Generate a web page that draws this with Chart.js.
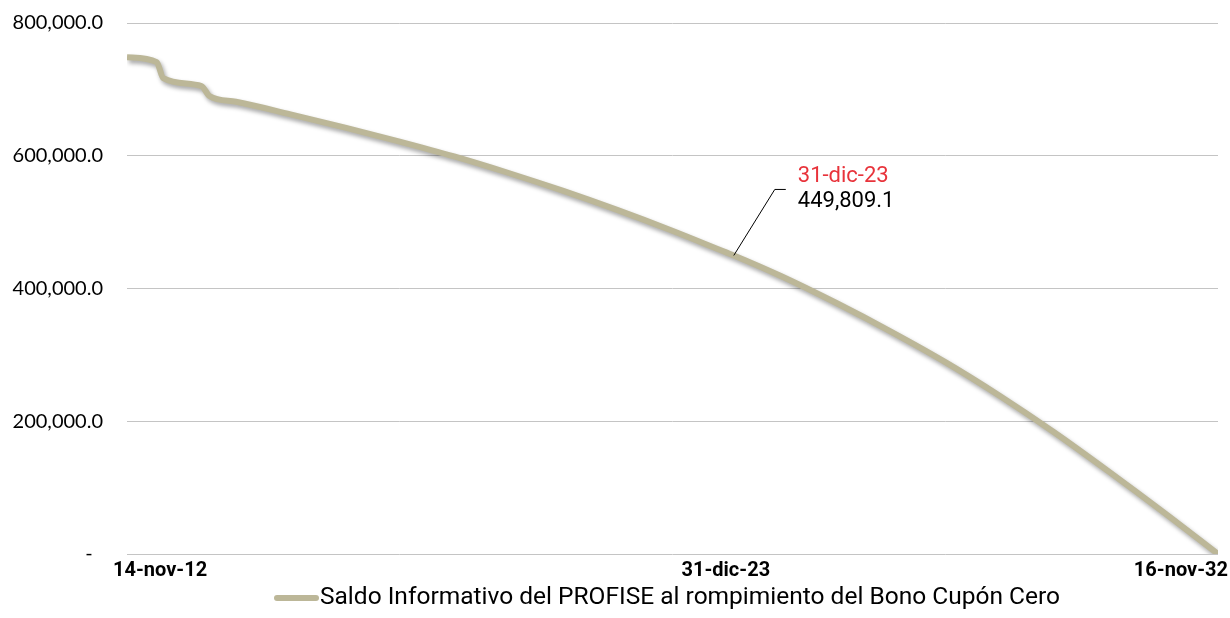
<!DOCTYPE html>
<html>
<head>
<meta charset="utf-8">
<script src="https://cdn.jsdelivr.net/npm/chart.js@4.4.1/dist/chart.umd.min.js"></script>
<style>
  html, body { margin: 0; padding: 0; background: #ffffff; }
  #wrap { width: 1230px; height: 618px; position: relative; }
</style>
</head>
<body>
<div id="wrap"><canvas id="c" width="1230" height="618"></canvas></div>
<script>
// ---- data ----
const seriesName = 'Saldo Informativo del PROFISE al rompimiento del Bono Cupón Cero';
const dates = [
  '2012-11-14','2013-06-01','2013-07-15','2014-03-28','2014-05-20','2014-11-14',
  '2015-11-14','2016-11-14','2017-11-14','2018-11-14','2019-11-14','2020-11-14',
  '2021-11-14','2022-11-14','2023-11-14','2023-12-31','2024-11-14','2025-11-14',
  '2026-11-14','2027-11-14','2028-11-14','2029-11-14','2030-11-14','2031-11-14',
  '2032-11-16'
];
const values = [
  748500, 741000, 717000, 705000, 690000, 681400,
  662400, 642400, 621400, 599000, 574000, 547000,
  518000, 487000, 454000, 449809.1, 418500, 378500,
  335500, 289500, 238500, 183500, 124500, 63500,
  0
];
const yTicks = [0, 200000, 400000, 600000, 800000];
const xTickDates = ['2012-11-14', '2023-12-31', '2032-11-16'];
const xTickLabels = ['14-nov-12', '31-dic-23', '16-nov-32'];
const annotationDate = '2023-12-31';
const annotationValue = 449809.1;
const annotationLabel = '31-dic-23';
const annotationValueLabel = '449,809.1';

// ---- helpers ----
function dayNum(s) { const p = s.split('-').map(Number); return Date.UTC(p[0], p[1] - 1, p[2]) / 86400000; }
function fmt(v) { return v === 0 ? '-  ' : v.toLocaleString('en-US', { minimumFractionDigits: 1, maximumFractionDigits: 1 }); }

const points = dates.map((d, i) => ({ x: dayNum(d), y: values[i] }));
const lineColor = 'rgb(188,183,152)';

const shadowPlugin = {
  id: 'shadow',
  beforeDatasetsDraw(chart) {
    const ctx = chart.ctx;
    ctx.save();
    ctx.shadowColor = 'rgba(0,0,0,0.35)';
    ctx.shadowBlur = 4;
    ctx.shadowOffsetX = 2;
    ctx.shadowOffsetY = 3;
  },
  afterDatasetsDraw(chart) { chart.ctx.restore(); }
};

const extrasPlugin = {
  id: 'extras',
  afterDraw(chart) {
    const ctx = chart.ctx;
    const xs = chart.scales.x, ys = chart.scales.y;
    const area = chart.chartArea;
    // x axis labels
    ctx.save();
    ctx.font = 'bold 20px Roboto';
    ctx.fillStyle = '#000000';
    ctx.textBaseline = 'middle';
    const ly = area.bottom + 17;
    xTickDates.forEach((d, i) => {
      const px = xs.getPixelForValue(dayNum(d));
      if (i === 0) { ctx.textAlign = 'left'; ctx.fillText(xTickLabels[i], px - 14, ly); }
      else if (i === xTickDates.length - 1) { ctx.textAlign = 'right'; ctx.fillText(xTickLabels[i], px + 10, ly); }
      else { ctx.textAlign = 'center'; ctx.fillText(xTickLabels[i], px - 8, ly); }
    });
    // annotation
    const ax = xs.getPixelForValue(dayNum(annotationDate));
    const ay = ys.getPixelForValue(annotationValue);
    ctx.strokeStyle = '#000000';
    ctx.lineWidth = 1;
    ctx.beginPath();
    ctx.moveTo(ax, ay);
    ctx.lineTo(ax + 41, ay - 66);
    ctx.lineTo(ax + 52, ay - 66);
    ctx.stroke();
    ctx.font = '22px Roboto';
    ctx.textAlign = 'left';
    ctx.fillStyle = '#e8333b';
    ctx.fillText(annotationLabel, ax + 64, ay - 79);
    ctx.fillStyle = '#000000';
    ctx.fillText(annotationValueLabel, ax + 64, ay - 54);
    // legend
    const legY = 598;
    ctx.strokeStyle = lineColor;
    ctx.lineWidth = 6;
    ctx.lineCap = 'round';
    ctx.beginPath();
    ctx.moveTo(277, legY);
    ctx.lineTo(316, legY);
    ctx.stroke();
    ctx.font = '24.5px Roboto';
    ctx.fillStyle = '#000000';
    ctx.fillText(seriesName, 320, legY);
    ctx.restore();
  }
};

new Chart(document.getElementById('c'), {
  type: 'line',
  data: {
    datasets: [{
      label: seriesName,
      data: points,
      borderColor: lineColor,
      backgroundColor: lineColor,
      borderWidth: 6,
      pointRadius: 0,
      pointHoverRadius: 0,
      cubicInterpolationMode: 'monotone',
      borderJoinStyle: 'round',
      borderCapStyle: 'butt',
      fill: false
    }]
  },
  options: {
    responsive: false,
    animation: false,
    devicePixelRatio: 1,
    layout: { padding: { top: 23, right: 12, left: 0, bottom: 0 } },
    plugins: { legend: { display: false }, tooltip: { enabled: false } },
    scales: {
      x: {
        type: 'linear',
        min: dayNum(xTickDates[0]),
        max: dayNum(xTickDates[xTickDates.length - 1]),
        grid: { display: false },
        border: { display: false },
        ticks: { display: false },
        afterFit(scale) { scale.height = 64; scale.paddingLeft = 0; scale.paddingRight = 0; }
      },
      y: {
        min: 0,
        max: 800000,
        afterBuildTicks(scale) { scale.ticks = yTicks.map(v => ({ value: v })); },
        ticks: {
          padding: 24,
          color: '#000000',
          font: { family: 'Lato', size: 20 },
          callback: (v) => fmt(v)
        },
        grid: { color: '#c4c4c4', lineWidth: 1, drawTicks: false },
        border: { display: false },
        afterFit(scale) { scale.width = 127; scale.paddingTop = 0; scale.paddingBottom = 0; }
      }
    }
  },
  plugins: [shadowPlugin, extrasPlugin]
});
</script>
</body>
</html>
